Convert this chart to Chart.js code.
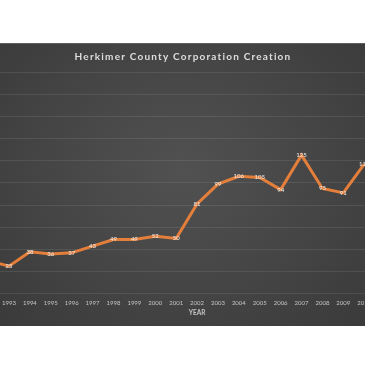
<!DOCTYPE html>
<html>
<head>
<meta charset="utf-8">
<script src="https://cdn.jsdelivr.net/npm/chart.js@4"></script>
<style>
  html, body { margin: 0; padding: 0; background: #fff; width: 365px; height: 365px; overflow: hidden; }
  .marco {
    position: absolute; left: 0; top: 43px; width: 365px; height: 283px; overflow: hidden;
    background: radial-gradient(ellipse at 50% 45%, #515151 0%, #474747 45%, #3a3a3a 100%);
    border-top: 1px solid #5e5e5e;
    box-sizing: border-box;
  }
  #grafico { position: absolute; left: -39.7px; top: -1px; }
</style>
</head>
<body>
<div class="marco">
  <canvas id="grafico" width="471" height="283"></canvas>
</div>
<script>
// años del eje X (2011 y 2012 quedan fuera del recorte)
const anios = ["1992", "1993", "1994", "1995", "1996", "1997", "1998", "1999", "2000", "2001",
  "2002", "2003", "2004", "2005", "2006", "2007", "2008", "2009", "2010", "2011", "2012"];
const corporaciones = [30, 25, 38, 36, 37, 43, 49, 49, 52, 50,
  81, 99, 106, 105, 94, 125, 95, 91, 117, null, null];
const titulo = "Herkimer County Corporation Creation";
const tituloEje = "YEAR";

document.addEventListener("DOMContentLoaded", () => {
  const canvas = document.getElementById("grafico");
  if (!canvas) return;

  // el título lleva espaciado entre letras; se quita antes de los datos
  const espaciadoTitulo = {
    id: "espaciadoTitulo",
    beforeDraw(chart) {
      chart.ctx.letterSpacing = "1.2px";
    },
    beforeDatasetsDraw(chart) {
      chart.ctx.letterSpacing = "0px";
    }
  };

  const etiquetasValores = {
    id: "etiquetasValores",
    afterDatasetsDraw(chart) {
      const ctx = chart.ctx;
      const meta = chart.getDatasetMeta(0);
      ctx.save();
      ctx.font = "6px Lato";
      ctx.fillStyle = "#f2f2f2";
      ctx.textAlign = "center";
      ctx.textBaseline = "middle";
      meta.data.forEach((punto, i) => {
        const valor = corporaciones[i];
        if (valor === null || valor === undefined) return;
        ctx.fillText(String(valor), punto.x, punto.y);
      });
      ctx.restore();
    }
  };

  new Chart(canvas, {
    type: "line",
    data: {
      labels: anios,
      datasets: [
        {
          label: "Corporations",
          data: corporaciones,
          borderColor: "#e47f3b",
          borderWidth: 3,
          pointRadius: 0,
          tension: 0,
          fill: false
        }
      ]
    },
    options: {
      responsive: false,
      animation: false,
      layout: {
        padding: { left: 0, right: 25, top: 0, bottom: 6.8 }
      },
      plugins: {
        legend: { display: false },
        tooltip: { enabled: false },
        title: {
          display: true,
          text: titulo,
          color: "#dedede",
          font: { family: "Lato", size: 10, weight: "bold" },
          padding: { top: 8, bottom: 9 }
        }
      },
      scales: {
        x: {
          offset: false,
          grid: { display: false, drawTicks: false, tickLength: 0, z: 1 },
          border: { display: false },
          ticks: {
            z: 1,
            color: "#c4c4c4",
            font: { family: "Lato", size: 6 },
            padding: 5.4,
            maxRotation: 0,
            autoSkip: false
          },
          title: {
            display: true,
            text: tituloEje,
            color: "#c4c4c4",
            font: { family: "Lato", size: 6.5, weight: "bold" },
            padding: { top: -2.5, bottom: 2 }
          }
        },
        y: {
          min: 0,
          max: 200,
          afterFit(scale) {
            scale.width = 28.1;
          },
          grid: { color: "rgba(255,255,255,0.09)", lineWidth: 1, drawTicks: false },
          border: { display: false },
          ticks: { display: false, stepSize: 20 }
        }
      }
    },
    plugins: [espaciadoTitulo, etiquetasValores]
  });
});
</script>
</body>
</html>
